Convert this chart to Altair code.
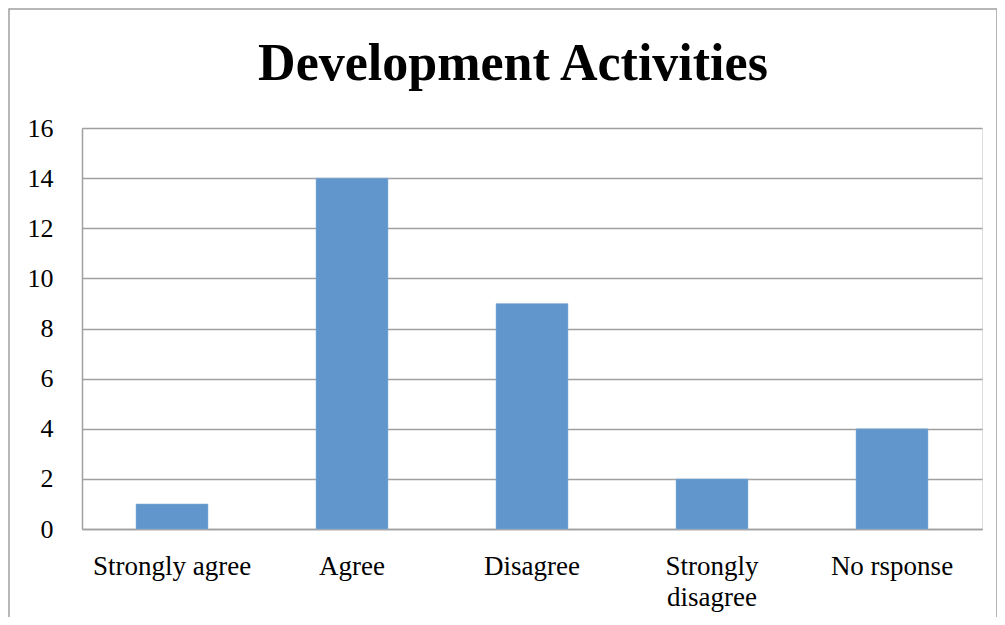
import altair as alt
import pandas as pd

categories = ["Strongly agree", "Agree", "Disagree", "Strongly disagree", "No rsponse"]
values = [1, 14, 9, 2, 4]
y_ticks = [0, 2, 4, 6, 8, 10, 12, 14, 16]
title_text = "Development Activities"

df = pd.DataFrame({"category": categories, "value": values})

FONT = "Liberation Serif"
W, H = 900, 401

bars = alt.Chart(df).mark_bar(color="#6096CB", stroke="#8fb4dc", strokeWidth=0.5).encode(
    x=alt.X("category:N", sort=categories, title=None,
            scale=alt.Scale(paddingInner=0.6, paddingOuter=0.3),
            axis=alt.Axis(labelAngle=0, labelFont=FONT, labelFontSize=27, labelColor="#000000",
                          labelPadding=24, ticks=False, domainColor="#a0a0a0", domainWidth=1.5,
                          labelLineHeight=31,
                          labelExpr="datum.label == 'Strongly disagree' ? ['Strongly', 'disagree'] : datum.label")),
    y=alt.Y("value:Q", title=None,
            scale=alt.Scale(domain=[0, 16], nice=False),
            axis=alt.Axis(values=y_ticks, labelFont=FONT, labelFontSize=26, labelColor="#000000",
                          labelPadding=29, ticks=False, domainColor="#a0a0a0", domainWidth=1.5,
                          gridColor="#a0a0a0", gridWidth=1.5)),
)

title = alt.Chart(pd.DataFrame({"t": [title_text]})).mark_text(
    font=FONT, fontSize=52, fontWeight="bold", color="#000000", align="center", baseline="alphabetic"
).encode(text="t:N", x=alt.value(431), y=alt.value(-48))

border = alt.Chart(pd.DataFrame({"t": [0]})).mark_rect(
    fill=None, stroke="#a0a0a0", strokeWidth=1.5
).encode(x=alt.value(-73), x2=alt.value(915), y=alt.value(-119), y2=alt.value(500))

chart = alt.layer(bars, title, border).properties(
    width=W, height=H, padding={"left": 74, "top": 120, "right": 15, "bottom": 88},
    autosize=alt.AutoSizeParams(type="none")
).configure_view(stroke=None).configure(background="white")

chart.save("out.html", embed_options={"renderer": "svg", "actions": False})
